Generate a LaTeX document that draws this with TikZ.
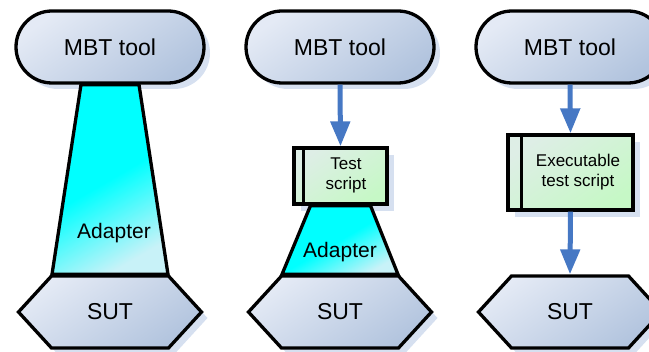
\documentclass[tikz,border=0pt]{standalone}
\usepackage{fontspec}
\setmainfont{Liberation Sans}
\usetikzlibrary{arrows.meta,shapes.symbols,shadows}
\definecolor{toollight}{RGB}{228,234,245}
\definecolor{tooldark}{RGB}{178,196,222}
\definecolor{haze}{RGB}{214,224,240}
\definecolor{aqua}{RGB}{0,255,255}
\definecolor{aqualight}{RGB}{200,242,248}
\definecolor{mint}{RGB}{198,248,198}
\definecolor{mintlight}{RGB}{222,238,230}
\definecolor{steel}{RGB}{70,120,196}
\tikzset{
  >={Triangle[length=25pt,width=19pt]},
  outline/.style={draw=black,line width=3.3pt},
  tool/.style={outline,rounded corners=36pt,minimum width=188pt,minimum height=72pt,
    top color=toollight,bottom color=tooldark,shading angle=35,
    font=\fontsize{23}{27}\selectfont,
    drop shadow={fill=haze,opacity=1,shadow xshift=6pt,shadow yshift=-6pt}},
  sut/.style={outline,signal,signal to=west and east,signal pointer angle=95,
    minimum width=183pt,minimum height=72pt,inner sep=0pt,
    top color=toollight,bottom color=tooldark,shading angle=35,
    font=\fontsize{23}{27}\selectfont,
    drop shadow={fill=haze,opacity=1,shadow xshift=6pt,shadow yshift=-6pt}},
  script/.style={outline,inner sep=0pt,
    top color=mintlight,bottom color=mint,shading angle=35,
    font=\fontsize{17}{20}\selectfont,
    drop shadow={fill=haze,opacity=1,shadow xshift=7pt,shadow yshift=-7pt}},
  adapter/.style={outline,top color=aqua,bottom color=aqualight,shading angle=30,
    middle color=aqua},
  tag/.style={font=\fontsize{21}{25}\selectfont},
  flow/.style={->,line width=5pt,draw=steel},
}
\newcommand{\scripttext}[2]{\hspace*{#1}\begin{tabular}{@{}c@{}}#2\end{tabular}}
\begin{document}
\begin{tikzpicture}[x=1pt,y=-1pt]
        \useasboundingbox (0,0) rectangle (649,352);
        % left: adapter joins tool and SUT
        \node[tool] (tool1) at (110,47) {MBT tool};
        \node[sut] (sut1) at (110,312) {SUT};
        % middle: test script over adapter
        \node[tool] (tool2) at (340,47) {MBT tool};
        \node[script,minimum width=93pt,minimum height=56pt]
          (ts2) at (340.5,176) {\scripttext{11pt}{Test\\script}};
        \node[sut] (sut2) at (340,312) {SUT};
        % right: executable script only
        \node[tool] (tool3) at (570,47) {MBT tool};
        \node[script,minimum width=125pt,minimum height=75pt]
          (ts3) at (570.5,172.5) {\scripttext{15pt}{Executable\\test script}};
        \node[sut] (sut3) at (570,312) {SUT};
        \draw[line width=2.6pt] ([xshift=11pt]ts2.north west) -- ([xshift=11pt]ts2.south west);
        \draw[line width=2.6pt] ([xshift=15pt]ts3.north west) -- ([xshift=15pt]ts3.south west);
        % adapters
        \draw[adapter] ([xshift=-29pt]tool1.south) -- ([xshift=29pt]tool1.south)
          -- ([xshift=58pt]sut1.north) -- ([xshift=-58pt]sut1.north) -- cycle;
        \draw[adapter] ([xshift=-30pt]ts2.south) -- ([xshift=30pt]ts2.south)
          -- ([xshift=58pt]sut2.north) -- ([xshift=-58pt]sut2.north) -- cycle;
        \node[tag] (ad1) at (114,233) {Adapter};
        \node[tag] (ad2) at (340,252) {Adapter};
        \draw[flow] (tool2.south) -- (ts2.north);
        \draw[flow] (tool3.south) -- (ts3.north);
        \draw[flow] (ts3.south) -- (sut3.north);
      \end{tikzpicture}
\end{document}
